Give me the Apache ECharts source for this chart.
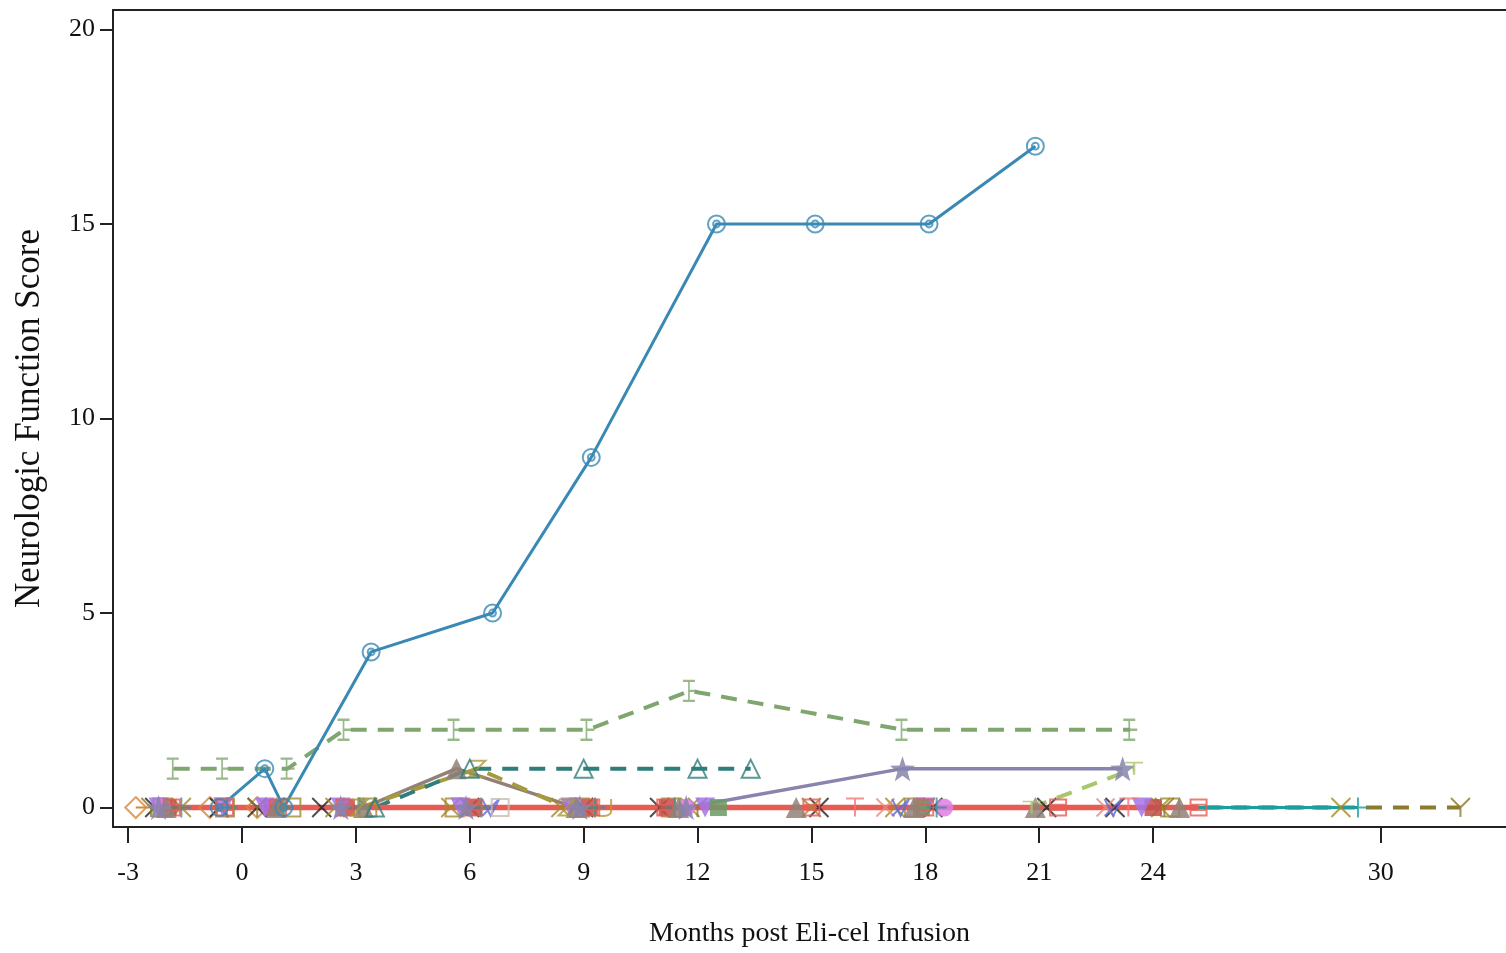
<!DOCTYPE html>
<html>
<head>
<meta charset="utf-8">
<script src="https://cdn.jsdelivr.net/npm/echarts@6/dist/echarts.min.js"></script>
<style>
html,body{margin:0;padding:0;background:#fff;}
#chart{width:1506px;height:953px;}
</style>
</head>
<body>
<div id="chart"></div>
<script>
// ---- Data (months post infusion, neurologic function score) ----
const xTickLabels = [-3, 0, 3, 6, 9, 12, 15, 18, 21, 24, 30];
const yTickLabels = [0, 5, 10, 15, 20];

const months_P01 = [-0.6, 0.6, 1.1, 3.4, 6.6, 9.2, 12.5, 15.1, 18.1, 20.9];
const score_P01  = [0, 1, 0, 4, 5, 9, 15, 15, 15, 17];

const months_P02 = [-1.8, -0.5, 1.2, 2.7, 5.6, 9.1, 11.8, 17.4, 23.4];
const score_P02  = [1, 1, 1, 2, 2, 2, 3, 2, 2];

const months_P03 = [3.5, 6.0, 9.0, 12.0, 13.4];
const score_P03  = [0, 1, 1, 1, 1];

const months_P04 = [-2.0, 0.9, 3.2, 5.65, 8.8, 11.5, 14.6, 17.7, 20.9, 24.7];
const score_P04  = [0, 0, 0, 1, 0, 0, 0, 0, 0, 0];

const months_P05 = [3.1, 6.2, 8.55];
const score_P05  = [0, 1, 0];

const months_P06 = [-2.2, 2.6, 5.9, 8.9, 11.7, 17.4, 23.2];
const score_P06  = [0, 0, 0, 0, 0, 1, 1];

const months_P07 = [20.8, 23.5];
const score_P07  = [0, 1];

const months_P08 = [-1.85, -0.45, 0.95, 2.7, 6.1, 9.2, 11.15, 15.0, 18.0, 21.5, 25.2];
const score_P08  = [0, 0, 0, 0, 0, 0, 0, 0, 0, 0, 0];

const months_P09 = [-1.6, -0.4, 1.1, 3.1, 6.3, 9.3, 11.4, 18.3, 29.4];
const score_P09  = [0, 0, 0, 0, 0, 0, 0, 0, 0];

const months_P10 = [-1.6, 2.45, 5.5, 8.4, 11.8, 15.0, 17.2, 24.2, 28.95];
const score_P10  = [0, 0, 0, 0, 0, 0, 0, 0, 0];

const months_P11 = [-2.4, 0.4, 3.3, 12.0, 18.0, 24.3, 32.1];
const score_P11  = [0, 0, 0, 0, 0, 0, 0];

const months_P12 = [-2.3, -0.6, 0.4, 2.1, 6.0, 9.0, 11.0, 15.2, 18.2, 21.2, 23.0];
const score_P12  = [0, 0, 0, 0, 0, 0, 0, 0, 0, 0, 0];

const months_P13 = [-2.8, -0.85, 0.4];
const score_P13  = [0, 0, 0];

const months_P14 = [-2.2, -0.5, 0.6, 2.6, 5.75, 8.65, 12.2, 18.0, 23.7];
const score_P14  = [0, 0, 0, 0, 0, 0, 0, 0, 0];

const months_P15 = [-2.1, 11.7, 18.5];
const score_P15  = [0, 0, 0];

const months_P16 = [16.15, 23.35];
const score_P16  = [0, 0];

const months_P17 = [16.95, 22.75];
const score_P17  = [0, 0];

const months_P18 = [6.55, 17.35, 22.95];
const score_P18  = [0, 0, 0];

const months_P19 = [6.8];
const score_P19  = [0];

const months_P20 = [12.55, 17.9];
const score_P20  = [0, 0];

const months_P21 = [9.5];
const score_P21  = [0];

const months_P22 = [-2.1, -0.45, 1.3, 3.3, 5.6, 8.9, 11.3, 17.7, 24.45];
const score_P22  = [0, 0, 0, 0, 0, 0, 0, 0, 0];

const months_P23 = [-1.95, 0.8, 2.75, 6.1, 9.15, 11.2, 24.0];
const score_P23  = [0, 0, 0, 0, 0, 0, 0];

const patients = [
  ['P13', months_P13, score_P13], ['P12', months_P12, score_P12], ['P22', months_P22, score_P22],
  ['P10', months_P10, score_P10], ['P11', months_P11, score_P11], ['P23', months_P23, score_P23],
  ['P14', months_P14, score_P14],
  ['P15', months_P15, score_P15], ['P16', months_P16, score_P16], ['P17', months_P17, score_P17],
  ['P18', months_P18, score_P18], ['P19', months_P19, score_P19], ['P20', months_P20, score_P20],
  ['P21', months_P21, score_P21], ['P09', months_P09, score_P09], ['P08', months_P08, score_P08],
  ['P04', months_P04, score_P04], ['P05', months_P05, score_P05], ['P06', months_P06, score_P06],
  ['P07', months_P07, score_P07], ['P03', months_P03, score_P03], ['P02', months_P02, score_P02],
  ['P01', months_P01, score_P01]
];

// ---- Styles ----
const SYM = {
  dblCircle: 'path://M10,5A5,5 0 1 1 0,5A5,5 0 1 1 10,5ZM7,5A2,2 0 1 1 3,5A2,2 0 1 1 7,5Z',
  ibeam: 'path://M2,0L8,0M5,0L5,10M2,10L8,10M5,5L9,5',
  triHollow: 'path://M5,0L10,10L0,10Z',
  star: 'path://M5,0L6.2,3.6L10,3.7L7,6L8.1,9.6L5,7.5L1.9,9.6L3,6L0,3.7L3.8,3.6Z',
  tbar: 'path://M0,0L10,0M5,0L5,6',
  zee: 'path://M0,0L10,0L0,10L10,10',
  rectLines: 'path://M0,0L10,0L10,10L0,10ZM0,3.3L10,3.3M0,6.6L10,6.6',
  plus: 'path://M5,0L5,10M0,5L10,5',
  cross: 'path://M0,0L10,10M10,0L0,10',
  wye: 'path://M0,0L5,5L10,0M5,5L5,10',
  diamond: 'path://M5,0L10,5L5,10L0,5Z',
  triDown: 'path://M0,0L10,0L5,10Z',
  vee: 'path://M0,0L5,10L10,0M0,10L10,0',
  sqHollow: 'path://M0,0L10,0L10,10L0,10Z',
  you: 'path://M0,0L0,7C0,11 10,11 10,7L10,0'
};
// [color, symbol, size, filled, lineType, lineWidth]
const style = {
  P01: ['#3a89b5', SYM.dblCircle, 17, false, 'solid', 3],
  P02: ['#7fa66f', SYM.ibeam, [14, 20], false, [16, 11], 4],
  P03: ['#2f7e7b', SYM.triHollow, 18, false, [16, 11], 4],
  P04: ['#928178', 'triangle', 21, true, 'solid', 3.5],
  P05: ['#a69a3e', SYM.zee, 16, false, [16, 11], 4],
  P06: ['#8784ad', SYM.star, 25, true, 'solid', 3.5],
  P07: ['#aac66c', SYM.tbar, [18, 12], false, [16, 11], 4],
  P08: ['#e65b54', SYM.rectLines, 16, false, 'solid', 5.5],
  P09: ['#1d9d9c', SYM.plus, 20, false, 'solid', 3],
  P10: ['#a38b27', SYM.cross, 19, false, [16, 11], 4],
  P11: ['#8c7a2f', SYM.wye, 19, false, [16, 11], 4],
  P12: ['#222222', SYM.cross, 19, false, 'solid', 2],
  P13: ['#d4883a', SYM.diamond, 21, false, 'solid', 2],
  P14: ['#a474e8', SYM.triDown, 20, true, 'solid', 2],
  P15: ['#e07ee6', 'circle', 18, true, 'solid', 2],
  P16: ['#f27676', SYM.tbar, [18, 18], false, 'solid', 2],
  P17: ['#f08a74', SYM.cross, 18, false, 'solid', 2],
  P18: ['#5f69d8', SYM.vee, 17, false, 'solid', 2],
  P19: ['#c9bcae', SYM.sqHollow, 17, false, 'solid', 2],
  P20: ['#6c9a66', 'rect', 17, true, 'solid', 2],
  P21: ['#b8962a', SYM.you, 17, false, 'solid', 2],
  P22: ['#a08c36', SYM.sqHollow, 18, false, 'solid', 2],
  P23: ['#c0504a', 'rect', 17, true, 'solid', 2]
};

const series = [];
patients.forEach(function (p) {
  const id = p[0], xs = p[1], ys = p[2];
  const st = style[id];
  const pts = xs.map(function (x, i) { return [x, ys[i]]; });
  series.push({
    name: id, type: 'line', data: pts, showSymbol: false, symbol: 'none',
    z: id === 'P08' ? 3 : 2, silent: true, animation: false,
    lineStyle: { color: st[0], width: st[5], type: st[4], cap: 'butt' },
    itemStyle: { color: st[0] }
  });
  series.push({
    name: id + ' marks', type: 'scatter', data: pts, symbol: st[1], symbolSize: st[2],
    z: 5, silent: true, animation: false,
    itemStyle: st[3] ? { color: st[0], opacity: 0.85 } :
      { color: 'rgba(0,0,0,0)', borderColor: st[0], borderWidth: 2 }
  });
});

const FONT = '"Liberation Serif", "Times New Roman", serif';
const chart = echarts.init(document.getElementById('chart'), null, { renderer: 'canvas' });
chart.setOption({
  backgroundColor: '#ffffff',
  animation: false,
  grid: { left: 113, top: 10, right: 0, bottom: 125, containLabel: false },
  xAxis: [{
    type: 'value', min: -3.4, max: 33.3,
    name: 'Months post Eli-cel Infusion', nameLocation: 'middle', nameGap: 93,
    nameTextStyle: { fontFamily: FONT, fontSize: 28, color: '#111' },
    axisLine: { show: true, onZero: false, lineStyle: { color: '#222', width: 2 } },
    axisTick: { show: true, customValues: xTickLabels, length: 16, lineStyle: { color: '#222', width: 2 } },
    axisLabel: { show: true, customValues: xTickLabels, margin: 33, fontFamily: FONT, fontSize: 26, color: '#111' },
    splitLine: { show: false }
  }, {
    type: 'value', min: -3.4, max: 33.3, position: 'top',
    axisLine: { show: true, onZero: false, lineStyle: { color: '#222', width: 2 } },
    axisTick: { show: false }, axisLabel: { show: false }, splitLine: { show: false }
  }],
  yAxis: {
    type: 'value', min: -0.5, max: 20.5,
    name: 'Neurologic Function Score', nameLocation: 'middle', nameGap: 66, nameRotate: 90,
    nameTextStyle: { fontFamily: FONT, fontSize: 35, color: '#111' },
    axisLine: { show: true, onZero: false, lineStyle: { color: '#222', width: 2 } },
    axisTick: { show: true, customValues: yTickLabels, length: 13, lineStyle: { color: '#222', width: 2 } },
    axisLabel: { show: true, customValues: yTickLabels, margin: 18, fontFamily: FONT, fontSize: 26, color: '#111' },
    splitLine: { show: false }
  },
  series: series
});
</script>
</body>
</html>
